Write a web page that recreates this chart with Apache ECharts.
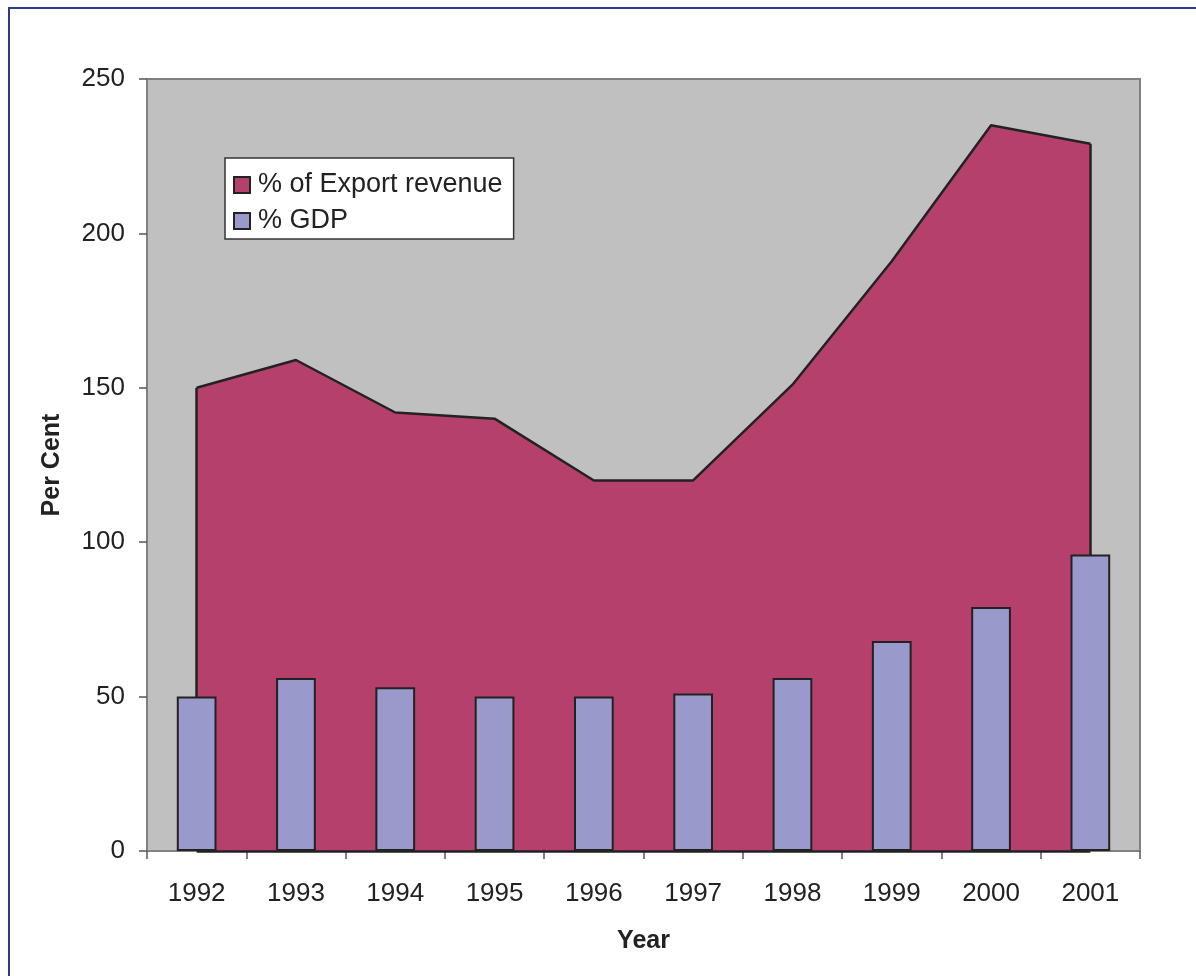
<!DOCTYPE html>
<html>
<head>
<meta charset="utf-8">
<script src="https://cdn.jsdelivr.net/npm/echarts@6/dist/echarts.min.js"></script>
<style>
html,body{margin:0;padding:0;background:#fff;}
#chart{width:1196px;height:976px;position:absolute;left:0;top:0;}
#frame{position:absolute;left:8px;top:7px;width:1300px;height:1100px;border-left:2px solid #2E3A87;border-top:2px solid #2E3A87;pointer-events:none;}
</style>
</head>
<body>
<div id="chart"></div>
<div id="frame"></div>
<script>
const years = ['1992','1993','1994','1995','1996','1997','1998','1999','2000','2001'];
const exportRevenue = [150,159,142,140,120,120,151,191,235,229];
const gdp = [50,56,53,50,50,51,56,68,79,96];
const yTicks = [0,50,100,150,200,250];

const FONT = 'Liberation Sans, Arial, sans-serif';
const chart = echarts.init(document.getElementById('chart'));
const first = years[0], last = years[years.length-1];
chart.setOption({
  animation: false,
  textStyle: {fontFamily: FONT},
  grid: {left:147, right:56, top:79, bottom:125, show:true, backgroundColor:'#C0C0C0', borderColor:'#808080', borderWidth:2},
  legend: {
    orient:'vertical', left:225, top:158, icon:'rect', itemWidth:16, itemHeight:16, itemGap:6,
    padding:[12,11,3,8], backgroundColor:'#fff', borderColor:'#333', borderWidth:1.5,
    textStyle:{fontSize:27, color:'#222', fontFamily:FONT, padding:[0,0,0,3], lineHeight:30},
    data:[
      {name:'% of Export revenue', itemStyle:{color:'#B5406B', borderColor:'#222', borderWidth:2}},
      {name:'% GDP', itemStyle:{color:'#9999CC', borderColor:'#222', borderWidth:2}}
    ]
  },
  xAxis: {
    type:'category', data:years, boundaryGap:true,
    name:'Year', nameLocation:'middle', nameGap:78,
    nameTextStyle:{fontSize:25, fontWeight:'bold', color:'#222', fontFamily:FONT},
    axisLine:{show:true, lineStyle:{color:'#808080', width:2}},
    axisTick:{show:true, length:8, lineStyle:{color:'#555', width:1.5}},
    axisLabel:{fontSize:26, color:'#222', margin:30, fontFamily:FONT},
    splitLine:{show:false}
  },
  yAxis: {
    type:'value', min:yTicks[0], max:yTicks[yTicks.length-1], interval:50,
    name:'Per Cent', nameLocation:'middle', nameGap:82, nameRotate:90,
    nameTextStyle:{fontSize:25, fontWeight:'bold', color:'#222', fontFamily:FONT},
    axisLine:{show:true, lineStyle:{color:'#808080', width:2}},
    axisTick:{show:true, length:8, lineStyle:{color:'#555', width:1.5}},
    axisLabel:{fontSize:26, color:'#222', margin:22, fontFamily:FONT},
    splitLine:{show:false}
  },
  series: [
    {
      name:'% of Export revenue', type:'line', data:exportRevenue, z:2,
      symbol:'none', color:'#B5406B',
      lineStyle:{color:'#222', width:2.5},
      areaStyle:{color:'#B5406B', opacity:1},
      markLine:{
        silent:true, symbol:['none','none'], label:{show:false},
        lineStyle:{color:'#222', width:2.5, type:'solid'},
        data:[
          [{coord:[first, 0]},{coord:[first, exportRevenue[0]]}],
          [{coord:[last, 0]},{coord:[last, exportRevenue[exportRevenue.length-1]]}],
          [{coord:[first, 0]},{coord:[last, 0]}]
        ]
      }
    },
    {
      name:'% GDP', type:'bar', data:gdp, z:5, barWidth:'40%',
      itemStyle:{color:'#9999CC', borderColor:'#222', borderWidth:2}
    }
  ]
});
</script>
</body>
</html>
